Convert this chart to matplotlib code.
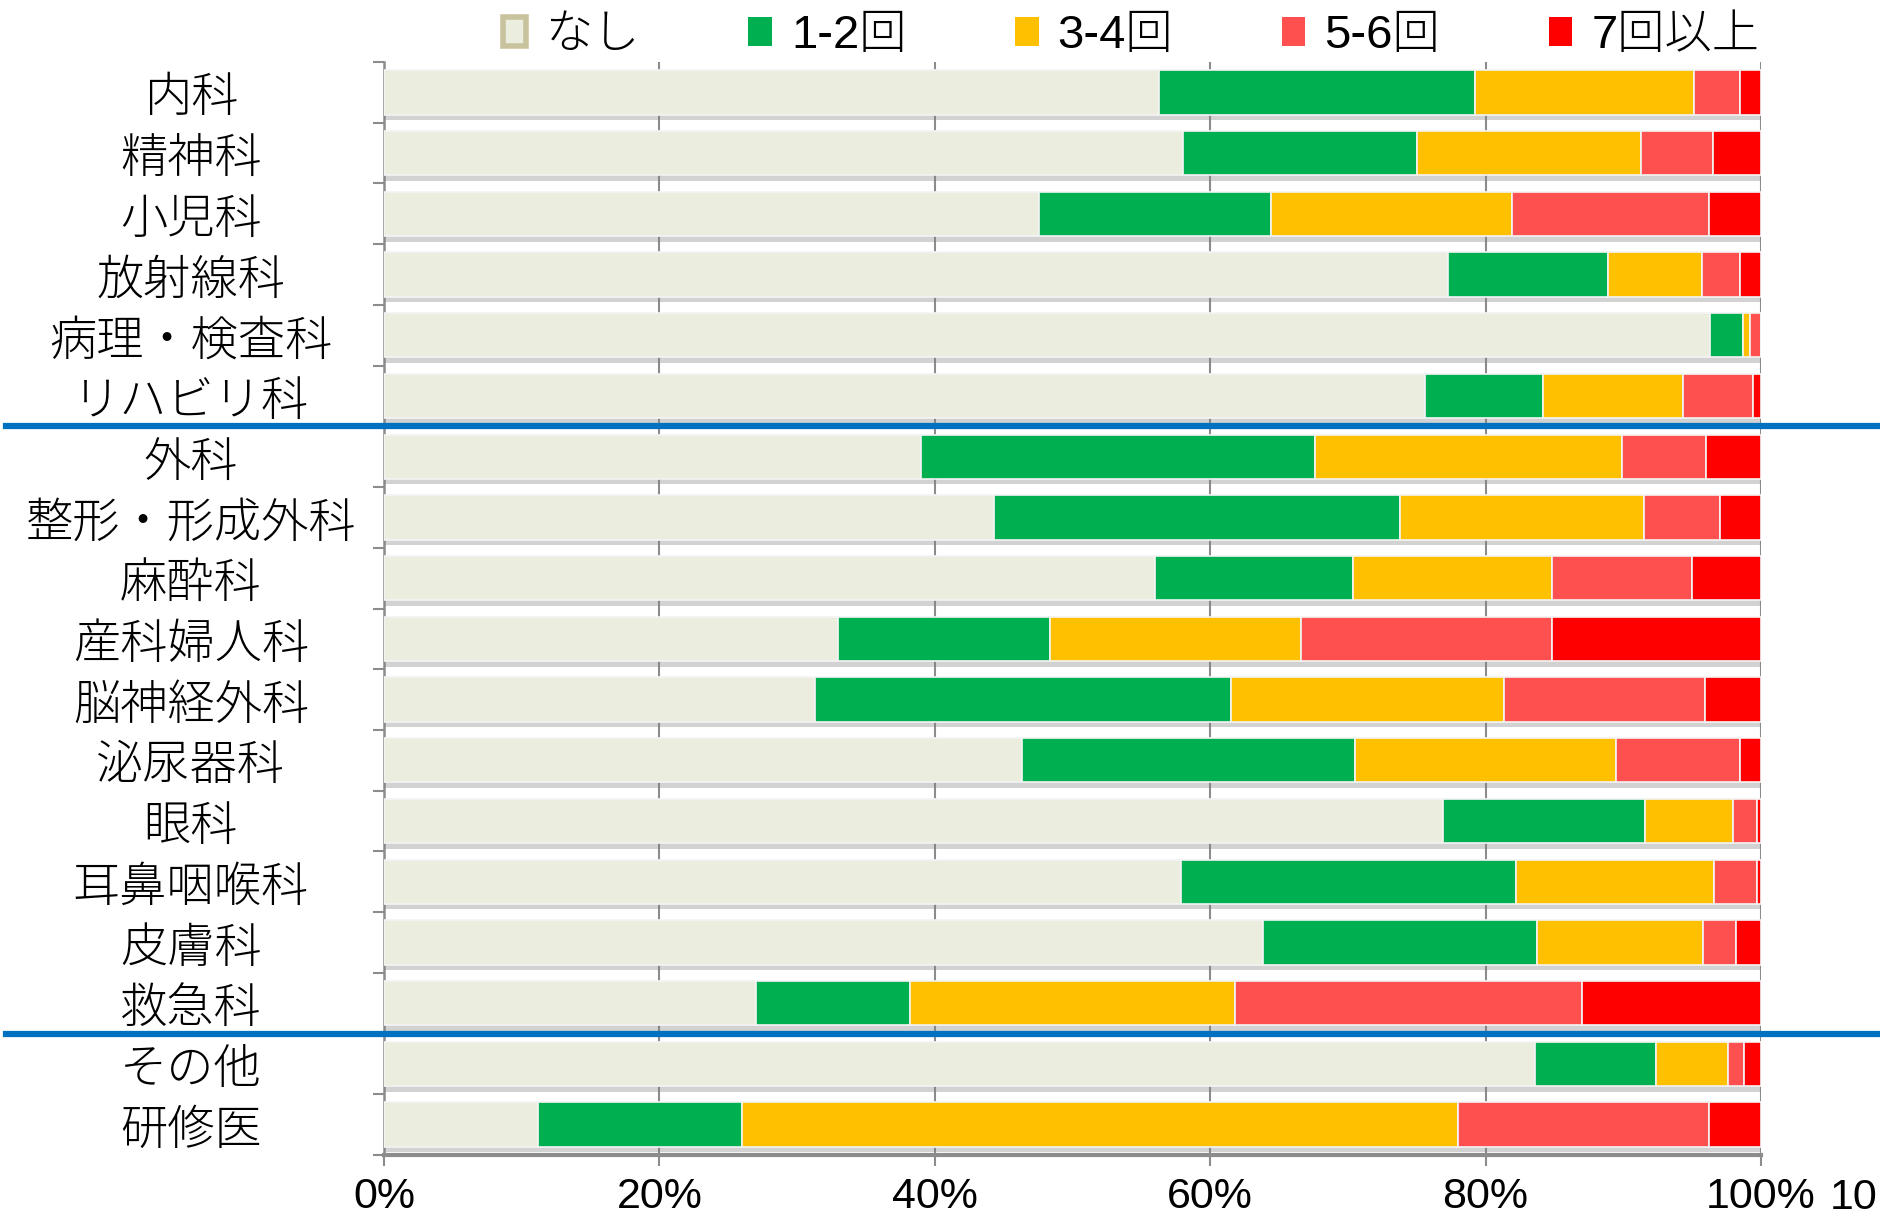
import matplotlib
matplotlib.use('Agg')
import matplotlib.pyplot as plt
import matplotlib.patheffects as pe
from matplotlib.patches import Patch
import numpy as np

# 診療科
categories = ['内科', '精神科', '小児科', '放射線科', '病理・検査科', 'リハビリ科',
              '外科', '整形・形成外科', '麻酔科', '産科婦人科', '脳神経外科', '泌尿器科',
              '眼科', '耳鼻咽喉科', '皮膚科', '救急科', 'その他', '研修医']

# 割合(%)
nashi   = [56.3, 58.0, 47.6, 77.3, 96.3, 75.6, 39.0, 44.3, 56.0, 33.0, 31.3, 46.3, 76.9, 57.9, 63.8, 27.0, 83.6, 11.2]
kai_1_2 = [22.9, 17.0, 16.8, 11.6, 2.4, 8.6, 28.6, 29.5, 14.4, 15.4, 30.2, 24.2, 14.7, 24.3, 19.9, 11.2, 8.8, 14.8]
kai_3_4 = [15.9, 16.3, 17.5, 6.8, 0.5, 10.1, 22.3, 17.7, 14.4, 18.2, 19.8, 19.0, 6.4, 14.4, 12.1, 23.6, 5.2, 52.0]
kai_5_6 = [3.4, 5.2, 14.3, 2.8, 0.8, 5.1, 6.1, 5.5, 10.2, 18.2, 14.6, 9.0, 1.7, 3.1, 2.4, 25.2, 1.2, 18.2]
kai_7   = [1.5, 3.5, 3.8, 1.5, 0.0, 0.6, 4.0, 3.0, 5.0, 15.2, 4.1, 1.5, 0.3, 0.3, 1.8, 13.0, 1.2, 3.8]

series_labels = ['なし', '1-2回', '3-4回', '5-6回', '7回以上']
colors = ['#EBEEDE', '#00B050', '#FFC000', '#FF5050', '#FF0000']
xticks = [0, 20, 40, 60, 80, 100]
xtick_labels = ['0%', '20%', '40%', '60%', '80%', '100%']
separators = [5.5, 15.5]

jp_font = ['Noto Sans CJK JP', 'DejaVu Sans']
num_font = ['Liberation Sans', 'DejaVu Sans']
mix_font = ['Liberation Sans', 'Noto Sans CJK JP', 'DejaVu Sans']

fig = plt.figure(figsize=(18.81, 12.17), dpi=100)
ax = fig.add_axes([384 / 1881, 1 - 1155 / 1217, 1377 / 1881, (1155 - 62) / 1217])

y = np.arange(len(categories))
left = np.zeros(len(categories))
shadow = [pe.SimplePatchShadow(offset=(0, -4), shadow_rgbFace='#7f7f7f', alpha=0.35), pe.Normal()]
for vals, col, lab in zip([nashi, kai_1_2, kai_3_4, kai_5_6, kai_7], colors, series_labels):
    vals = np.array(vals)
    bars = ax.barh(y, vals, left=left, height=0.73, color=col, edgecolor='#f4f4f4',
                   linewidth=1.2, label=lab, zorder=3)
    for b in bars:
        b.set_path_effects(shadow)
    left += vals

ax.set_xlim(0, 100)
ax.set_ylim(len(categories) - 0.5, -0.5)

# 目盛
ax.set_xticks(xticks)
ax.set_xticklabels(xtick_labels, family=num_font, fontsize=31)
ax.tick_params(axis='x', direction='out', length=8, width=1.5, color='#8c8c8c', pad=8)
ax.set_yticks(y)
ax.set_yticklabels(categories, family=jp_font, fontsize=34, ha='center', weight='light')
ax.tick_params(axis='y', which='major', length=0, pad=139)
ax.set_yticks(np.arange(-0.5, len(categories)), minor=True)
ax.tick_params(axis='y', which='minor', direction='out', length=8, width=1.5, color='#8c8c8c')

ax.xaxis.grid(True, color='#8c8c8c', linewidth=1.5)
ax.set_axisbelow(True)
for s in ['top', 'right']:
    ax.spines[s].set_visible(False)
ax.spines['left'].set_color('#8c8c8c')
ax.spines['left'].set_linewidth(1.8)
ax.spines['bottom'].set_color('#8c8c8c')
ax.spines['bottom'].set_linewidth(3)

# 区切り線
for sep in separators:
    ax.plot([-0.2745, 1.09], [sep, sep], transform=ax.get_yaxis_transform(),
            color='#0070C0', linewidth=4.5, clip_on=False, zorder=5)

# 凡例
handles = [Patch(facecolor=c, edgecolor=('#C8C39C' if i == 0 else 'none'),
                 linewidth=(4 if i == 0 else 0)) for i, c in enumerate(colors)]
fig.legend(handles, series_labels, loc='center', bbox_to_anchor=(1131 / 1881, 1 - 36 / 1217),
           ncol=5, frameon=False, prop={'family': mix_font, 'size': 34, 'weight': 'light'},
           handlelength=0.5, handleheight=0.55, handletextpad=0.4, columnspacing=2.3)

fig.text(1830 / 1881, 8 / 1217, '10', family=num_font, fontsize=31, va='baseline', ha='left')

fig.savefig('out.png', dpi=100)
